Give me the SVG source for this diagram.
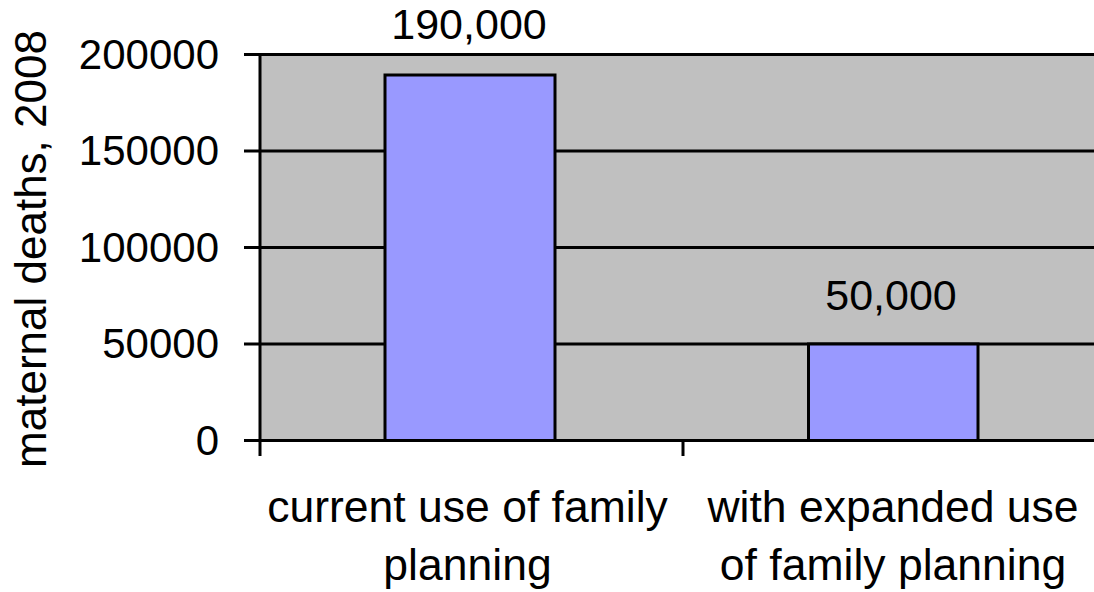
<svg xmlns="http://www.w3.org/2000/svg" width="1094" height="592" viewBox="0 0 1094 592">
<style>
text{font-family:"Liberation Sans",Arial,sans-serif;fill:#000}
.tick{font-size:42px;text-anchor:end}
.lab{font-size:43px;text-anchor:middle}
.cat{font-size:44.5px;text-anchor:middle}
.grid{stroke:#000;stroke-width:3;fill:none}
.bar{fill:#9999FF;stroke:#000;stroke-width:3}
</style>
<rect x="0" y="0" width="1094" height="592" fill="#fff"/>
<g id="plot">
<rect x="260" y="54.5" width="840" height="386" fill="#C0C0C0"/>
</g>
<g id="gridlines">
<path class="grid" d="M244 54.5H1094M244 151H1094M244 247.5H1094M244 344H1094M244 440.5H1094"/>
<path class="grid" d="M260 53V456M683 440.5V456"/>
</g>
<g id="bar1">
<rect class="bar" x="385" y="75" width="170" height="365.5"/>
<text class="lab" x="469" y="39">190,000</text>
</g>
<g id="bar2">
<rect class="bar" x="808.5" y="344" width="169.5" height="96.5"/>
<text class="lab" x="891" y="309.5">50,000</text>
</g>
<g id="yaxis">
<text class="tick" x="219" y="68.5">200000</text>
<text class="tick" x="219" y="165">150000</text>
<text class="tick" x="219" y="261.5">100000</text>
<text class="tick" x="219" y="358">50000</text>
<text class="tick" x="219" y="454.5">0</text>
<text font-size="44" text-anchor="middle" transform="translate(46,249) rotate(-90)">maternal deaths, 2008</text>
</g>
<g id="xaxis">
<text class="cat" x="467.5" y="522">current use of family</text>
<text class="cat" x="467.5" y="580">planning</text>
<text class="cat" x="893" y="522">with expanded use</text>
<text class="cat" x="893" y="580">of family planning</text>
</g>
</svg>
